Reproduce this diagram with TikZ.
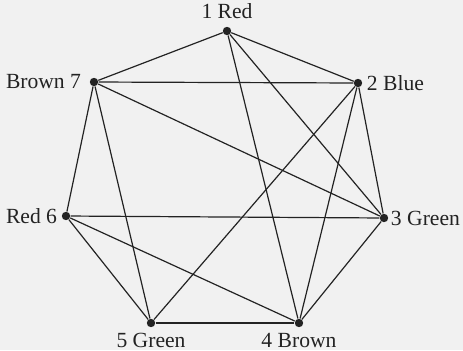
\documentclass[tikz,border=0pt]{standalone}
\usepackage{fontspec}
\setmainfont{Liberation Serif}
\usepackage{tikz}
\usetikzlibrary{positioning}
\definecolor{PaperGray}{RGB}{241, 241, 241}
\definecolor{InkGray}{RGB}{35, 35, 35}

\begin{document}
\begin{tikzpicture}[x=0.5pt, y=-0.5pt,
      vertex/.style={circle, fill=InkGray, inner sep=0pt, minimum size=4.2pt},
      edge/.style={draw=InkGray, line width=0.6pt},
      every label/.style={font=\fontsize{10.8}{12}\selectfont, text=InkGray, inner sep=1pt}
    ]
      \fill[PaperGray] (0,0) rectangle (463,350);
      \useasboundingbox (0,0) rectangle (463,350);

      \node[vertex, label={[label distance=2.5pt]above:1 Red}] (v1) at (227,31) {};
      \node[vertex, label={[label distance=1pt]right:2 Blue}] (v2) at (358,83) {};
      \node[vertex, label={[label distance=0pt]right:3 Green}] (v3) at (384,218) {};
      \node[vertex, label={[label distance=1.5pt]below:4 Brown}] (v4) at (299,323) {};
      \node[vertex, label={[label distance=1.5pt]below:5 Green}] (v5) at (151,323) {};
      \node[vertex, label={[label distance=1pt]left:Red 6}] (v6) at (66,216) {};
      \node[vertex, label={[label distance=3pt]left:Brown 7}] (v7) at (94,82) {};

      \draw[edge] (v1) -- (v7);
      \draw[edge] (v1) -- (v2);
      \draw[edge] (v1) -- (v3);
      \draw[edge] (v1) -- (v4);
      \draw[edge] (v7) -- (v2);
      \draw[edge] (v7) -- (v3);
      \draw[edge] (v7) -- (v6);
      \draw[edge] (v7) -- (v5);
      \draw[edge] (v2) -- (v3);
      \draw[edge] (v2) -- (v4);
      \draw[edge] (v2) -- (v5);
      \draw[edge] (v6) -- (v3);
      \draw[edge] (v6) -- (v5);
      \draw[edge] (v6) -- (v4);
      \draw[edge] (v5) -- (v4);
      \draw[edge] (v3) -- (v4);
    \end{tikzpicture}
\end{document}
